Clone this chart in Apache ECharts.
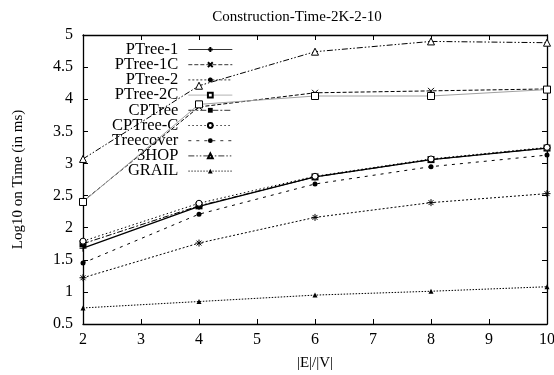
<!DOCTYPE html>
<html><head><meta charset="utf-8">
<script src="https://cdn.jsdelivr.net/npm/echarts@6/dist/echarts.min.js"></script>
<style>html,body{margin:0;padding:0;background:#fff}#c{width:554px;height:375px}</style>
</head><body><div id="c"></div>
<script>
var xValues = [2, 4, 6, 8, 10];
var seriesNames = ['PTree-1','PTree-1C','PTree-2','PTree-2C','CPTree','CPTree-C','Treecover','3HOP','GRAIL'];
var ptree1    = [1.68, 2.33, 2.79, 3.06, 3.24];
var ptree1c   = [2.41, 3.88, 4.10, 4.13, 4.16];
var ptree2    = [1.22, 1.76, 2.16, 2.39, 2.53];
var ptree2c   = [2.40, 3.92, 4.05, 4.05, 4.15];
var cptree    = [1.75, 2.34, 2.79, 3.06, 3.24];
var cptreec   = [1.79, 2.38, 2.80, 3.07, 3.25];
var treecover = [1.45, 2.21, 2.68, 2.95, 3.13];
var hop3      = [3.07, 4.21, 4.74, 4.90, 4.88];
var grail     = [0.75, 0.85, 0.95, 1.01, 1.08];
var yTicks = [0.5, 1, 1.5, 2, 2.5, 3, 3.5, 4, 4.5, 5];

var F = 'Liberation Serif, Times New Roman, serif';
var FS = 15;
var plusP = 'path://M0,5L10,5M5,0L5,10';
var crossP = 'path://M0,0L10,10M10,0L0,10';
var starP = 'path://M0,5L10,5M5,0L5,10M1.5,1.5L8.5,8.5M8.5,1.5L1.5,8.5';

function pairs(arr){ return xValues.map(function(x,i){ return [x, arr[i]]; }); }

var specs = [
  {d: ptree1, sym: plusP, size: 7, open: true, lt: 'solid', col: '#000', w: 1.3},
  {d: ptree1c, sym: crossP, size: 6, open: true, lt: [4,2], col: '#000', w: 1},
  {d: ptree2, sym: starP, size: 7, open: true, lt: [2,2], col: '#000', w: 1},
  {d: ptree2c, sym: 'rect', size: 7, hollow: true, lt: 'solid', col: '#a0a0a0', mcol: '#000', w: 1},
  {d: cptree, sym: 'rect', size: 7, fill: true, lt: [6,2,2,2], col: '#000', w: 1},
  {d: cptreec, sym: 'circle', size: 6, hollow: true, lt: [1.5,2.5], col: '#000', w: 1},
  {d: treecover, sym: 'circle', size: 5, fill: true, lt: [3,5], col: '#000', w: 1},
  {d: hop3, sym: 'triangle', size: 7, hollow: true, lt: [6,2,1.5,2,1.5,2], col: '#000', w: 1},
  {d: grail, sym: 'triangle', size: 5, fill: true, lt: [1.5,1.5], col: '#000', w: 1}
];

var series = specs.map(function(s, i){
  var mcol = s.mcol || '#000';
  var itemStyle;
  if (s.open) itemStyle = {color: 'none', borderColor: mcol, borderWidth: 1};
  else if (s.hollow) itemStyle = {color: '#fff', borderColor: mcol, borderWidth: 1};
  else itemStyle = {color: mcol, borderColor: mcol, borderWidth: 0};
  return {
    name: seriesNames[i], type: 'line', data: pairs(s.d),
    symbol: s.sym, symbolSize: s.size, showAllSymbol: true,
    lineStyle: {color: s.col, width: s.w, type: s.lt},
    itemStyle: itemStyle, animation: false, z: 3 + i
  };
});

var chart = echarts.init(document.getElementById('c'), null, {renderer: 'canvas'});
chart.setOption({
  animation: false,
  backgroundColor: '#fff',
  title: {text: 'Construction-Time-2K-2-10', left: 292, top: 5, textAlign: 'center',
          textStyle: {fontFamily: F, fontSize: FS, fontWeight: 'normal', color: '#000'}},
  grid: {left: 83, right: 7, top: 35, bottom: 51, containLabel: false, outerBoundsMode: 'none'},
  legend: {
    orient: 'vertical', left: 112, top: 41, align: 'right', padding: 0,
    itemWidth: 44, itemHeight: 6, itemGap: -1.8,
    lineStyle: {width: 0.8},
    textStyle: {fontFamily: F, fontSize: 16.5, color: '#000', width: 80, align: 'right', padding: [0, 5, 0, 0]},
    data: seriesNames
  },
  xAxis: [{
    type: 'value', min: 2, max: 10, interval: 1,
    name: '|E|/|V|', nameLocation: 'middle', nameGap: 32,
    nameTextStyle: {fontFamily: F, fontSize: FS, color: '#000'},
    axisLine: {lineStyle: {color: '#000', width: 1.3}},
    axisTick: {inside: true, length: 5, lineStyle: {color: '#000'}},
    axisLabel: {fontFamily: F, fontSize: 16, color: '#000', margin: 8},
    splitLine: {show: false}
  }, {
    type: 'value', position: 'top', min: 2, max: 10, interval: 1,
    axisLine: {show: true, lineStyle: {color: '#000', width: 1.3}},
    axisTick: {inside: true, length: 5, lineStyle: {color: '#000'}},
    axisLabel: {show: false}, splitLine: {show: false}
  }],
  yAxis: [{
    type: 'value', min: 0.5, max: 5, interval: 0.5,
    name: 'Log10 on Time (in ms)', nameLocation: 'middle', nameGap: 57, nameRotate: 90,
    nameTextStyle: {fontFamily: F, fontSize: FS, color: '#000'},
    axisLine: {show: true, lineStyle: {color: '#000', width: 1.3}},
    axisTick: {inside: true, length: 5, lineStyle: {color: '#000'}},
    axisLabel: {fontFamily: F, fontSize: 16, color: '#000', margin: 10,
      formatter: function(v){ return String(v); }},
    splitLine: {show: false}
  }, {
    type: 'value', position: 'right', min: 0.5, max: 5, interval: 0.5,
    axisLine: {show: true, lineStyle: {color: '#000', width: 1.3}},
    axisTick: {inside: true, length: 5, lineStyle: {color: '#000'}},
    axisLabel: {show: false}, splitLine: {show: false}
  }],
  series: series
});
</script></body></html>
